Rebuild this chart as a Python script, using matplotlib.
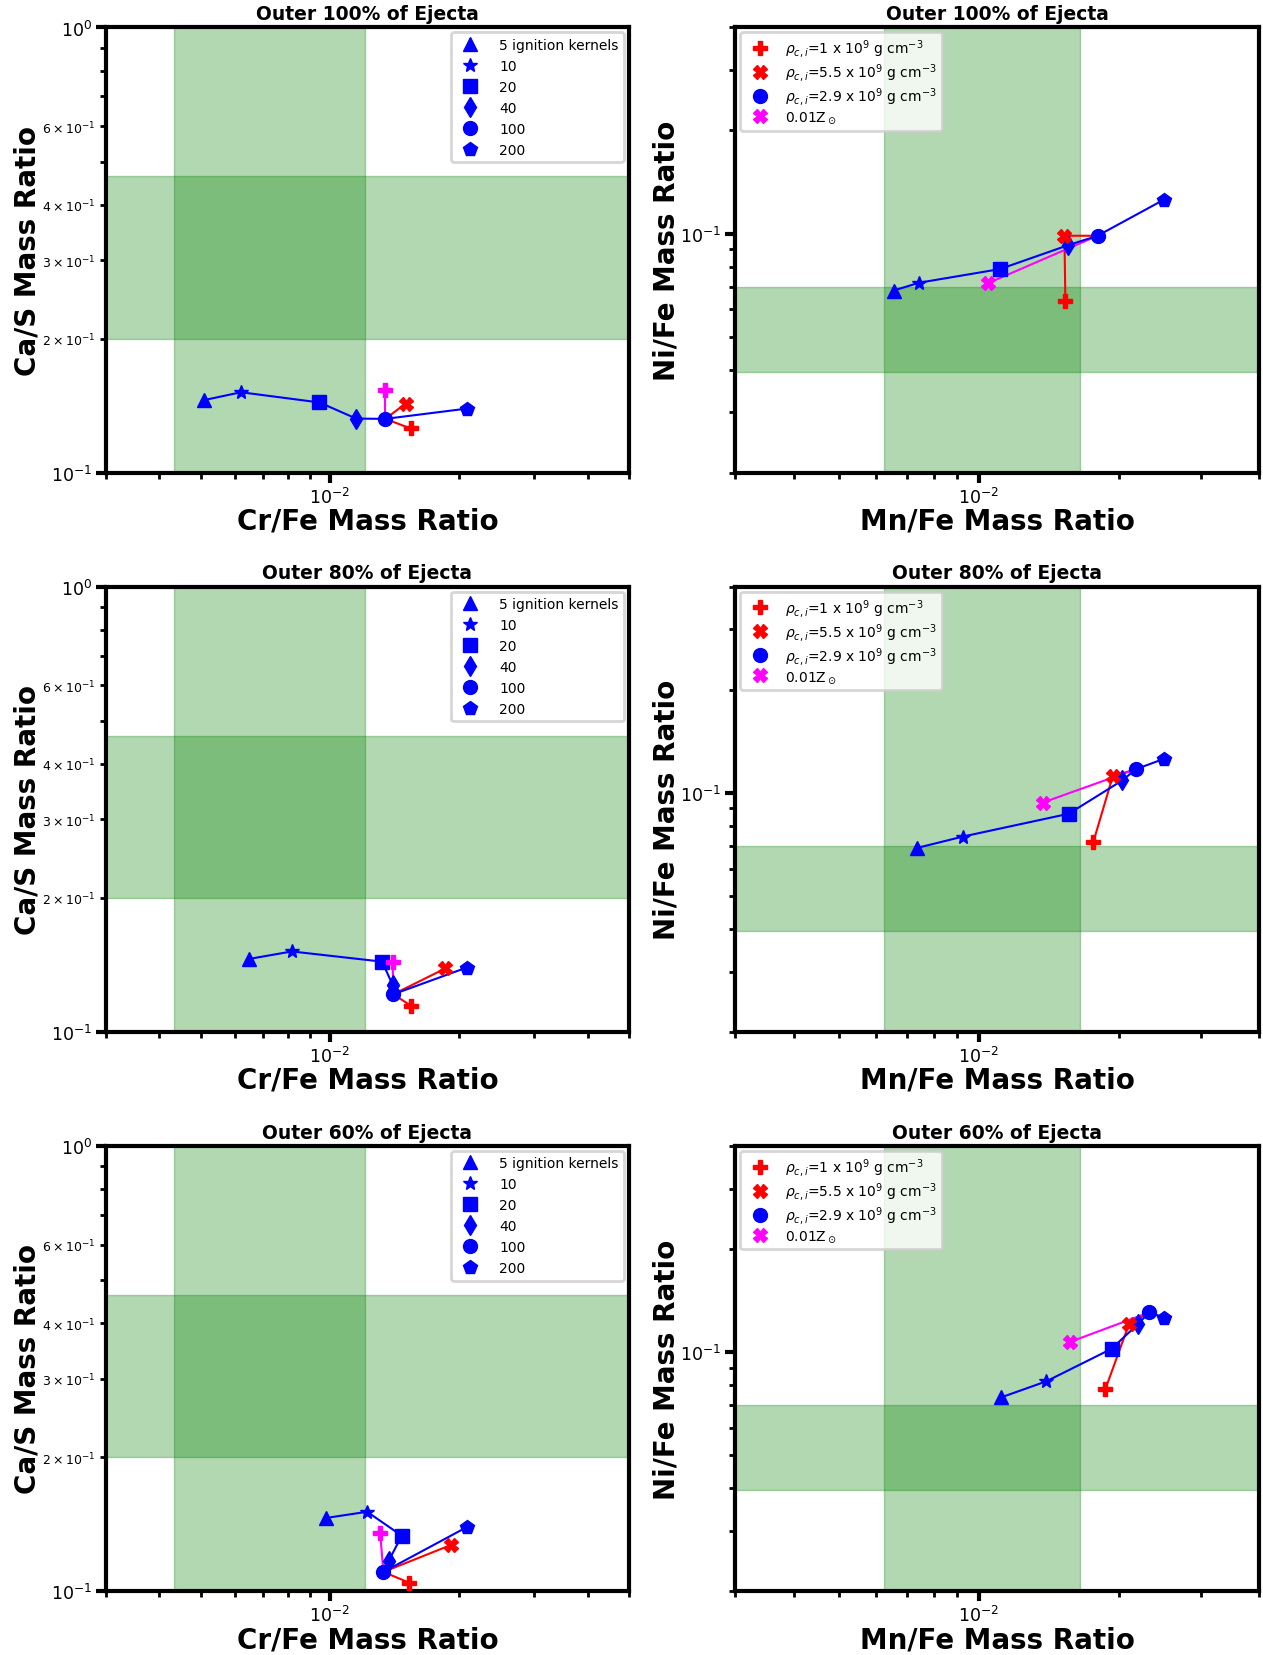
import numpy as np
import matplotlib.pyplot as plt
from matplotlib.lines import Line2D

panel_titles = ['Outer 100% of Ejecta', 'Outer 80% of Ejecta', 'Outer 60% of Ejecta']
kernel_labels = ['5 ignition kernels', '10', '20', '40', '100', '200']
kernel_markers = ['^', '*', 's', 'd', 'o', 'p']

# Cr/Fe vs Ca/S for the ignition-kernel sequence (rho_c = 2.9e9), one row per ejecta fraction
cr_fe = [
    [5.10e-3, 6.21e-3, 9.47e-3, 1.153e-2, 1.349e-2, 2.09e-2],
    [6.48e-3, 8.16e-3, 1.326e-2, 1.403e-2, 1.409e-2, 2.09e-2],
    [9.83e-3, 1.223e-2, 1.473e-2, 1.373e-2, 1.335e-2, 2.09e-2],
]
ca_s = [
    [0.1456, 0.1516, 0.1438, 0.1323, 0.1321, 0.1393],
    [0.1458, 0.1516, 0.1438, 0.1275, 0.1215, 0.1395],
    [0.1460, 0.1507, 0.1332, 0.1168, 0.1104, 0.1392],
]
cr_fe_rho1 = [1.545e-2, 1.545e-2, 1.531e-2]
ca_s_rho1 = [0.1257, 0.1146, 0.1045]
cr_fe_rho55 = [1.505e-2, 1.861e-2, 1.922e-2]
ca_s_rho55 = [0.1430, 0.1388, 0.1270]
cr_fe_lowz = [1.349e-2, 1.403e-2, 1.312e-2]
ca_s_lowz = [0.1530, 0.1433, 0.1349]

# Mn/Fe vs Ni/Fe
mn_fe = [
    [6.56e-3, 7.44e-3, 1.11e-2, 1.558e-2, 1.80e-2, 2.50e-2],
    [7.35e-3, 9.23e-3, 1.561e-2, 2.036e-2, 2.175e-2, 2.50e-2],
    [1.116e-2, 1.396e-2, 1.929e-2, 2.202e-2, 2.323e-2, 2.506e-2],
]
ni_fe = [
    [0.0681, 0.0718, 0.0787, 0.0925, 0.0985, 0.1256],
    [0.0689, 0.0744, 0.0868, 0.1087, 0.1171, 0.1256],
    [0.0736, 0.0820, 0.1021, 0.1209, 0.1304, 0.1260],
]
mn_fe_rho1 = [1.535e-2, 1.763e-2, 1.872e-2]
ni_fe_rho1 = [0.0633, 0.0718, 0.0780]
mn_fe_rho55 = [1.528e-2, 1.941e-2, 2.102e-2]
ni_fe_rho55 = [0.0985, 0.1118, 0.1204]
mn_fe_lowz = [1.045e-2, 1.374e-2, 1.570e-2]
ni_fe_lowz = [0.0715, 0.0936, 0.1069]

# observed ranges (shaded)
cr_fe_obs = (4.33e-3, 1.21e-2)
ca_s_obs = (0.2, 0.463)
mn_fe_obs = (6.27e-3, 1.647e-2)
ni_fe_obs = (0.0395, 0.07)

density_labels = [r'$\rho_{c,i}$=1 x 10$^9$ g cm$^{-3}$',
                  r'$\rho_{c,i}$=5.5 x 10$^9$ g cm$^{-3}$',
                  r'$\rho_{c,i}$=2.9 x 10$^9$ g cm$^{-3}$',
                  r'0.01Z$_\odot$']

MS = 10


def estilo(ax):
    for s in ax.spines.values():
        s.set_linewidth(3)
    ax.tick_params(which='major', length=7, width=3, labelsize=12.5, pad=3)
    ax.tick_params(which='minor', length=4.5, width=2, labelsize=9, pad=3)


def graficar(ax, x, y, xr1, yr1, xr55, yr55, xz, yz, zmark, red_line):
    circ = (x[4], y[4])
    # red density line
    if red_line == 'left':
        ax.plot([xr55, circ[0], xr1], [yr55, circ[1], yr1], color='red', lw=1.5, zorder=3)
    else:
        ax.plot([xr1, xr55, circ[0]], [yr1, yr55, circ[1]], color='red', lw=1.5, zorder=3)
    ax.plot([xz, circ[0]], [yz, circ[1]], color='magenta', lw=1.5, zorder=3)
    ax.plot(x, y, color='blue', lw=1.5, zorder=4)
    for xi, yi, m in zip(x, y, kernel_markers):
        ax.plot(xi, yi, marker=m, color='blue', markersize=MS, linestyle='None', zorder=5)
    ax.plot(xr1, yr1, marker='P', color='red', markersize=MS, linestyle='None', zorder=6)
    ax.plot(xr55, yr55, marker='X', color='red', markersize=MS, linestyle='None', zorder=6)
    ax.plot(xz, yz, marker=zmark, color='magenta', markersize=MS, linestyle='None', zorder=6)


fig, axes = plt.subplots(3, 2, figsize=(12.63, 16.56), dpi=100)
fig.subplots_adjust(left=0.0836, right=0.9968, bottom=0.0386, top=0.9828,
                    wspace=0.203, hspace=0.256)

kernel_handles = [Line2D([], [], color='blue', marker=m, linestyle='None',
                         markersize=MS, label=l)
                  for m, l in zip(kernel_markers, kernel_labels)]
density_handles = [
    Line2D([], [], color='red', marker='P', linestyle='None', markersize=MS, label=density_labels[0]),
    Line2D([], [], color='red', marker='X', linestyle='None', markersize=MS, label=density_labels[1]),
    Line2D([], [], color='blue', marker='o', linestyle='None', markersize=MS, label=density_labels[2]),
    Line2D([], [], color='magenta', marker='X', linestyle='None', markersize=MS, label=density_labels[3]),
]

for i in range(3):
    ax = axes[i, 0]
    ax.set_xscale('log')
    ax.set_yscale('log')
    ax.axvspan(cr_fe_obs[0], cr_fe_obs[1], color='green', alpha=0.3, zorder=1)
    ax.axhspan(ca_s_obs[0], ca_s_obs[1], color='green', alpha=0.3, zorder=1)
    graficar(ax, cr_fe[i], ca_s[i], cr_fe_rho1[i], ca_s_rho1[i],
             cr_fe_rho55[i], ca_s_rho55[i], cr_fe_lowz[i], ca_s_lowz[i], 'P', 'left')
    ax.set_xlim(3e-3, 5e-2)
    ax.set_ylim(0.1, 1.0)
    ax.set_title(panel_titles[i], fontsize=13.5, fontweight='bold')
    ax.set_xlabel('Cr/Fe Mass Ratio', fontsize=20, fontweight='bold', labelpad=0)
    ax.set_ylabel('Ca/S Mass Ratio', fontsize=20, fontweight='bold', labelpad=0)
    estilo(ax)
    leg = ax.legend(handles=kernel_handles, loc='upper right', fontsize=10,
                    borderaxespad=0.35, handletextpad=1.1)
    leg.get_frame().set_linewidth(2)
    leg.set_zorder(10)

    ax = axes[i, 1]
    ax.set_xscale('log')
    ax.set_yscale('log')
    ax.axvspan(mn_fe_obs[0], mn_fe_obs[1], color='green', alpha=0.3, zorder=1)
    ax.axhspan(ni_fe_obs[0], ni_fe_obs[1], color='green', alpha=0.3, zorder=1)
    graficar(ax, mn_fe[i], ni_fe[i], mn_fe_rho1[i], ni_fe_rho1[i],
             mn_fe_rho55[i], ni_fe_rho55[i], mn_fe_lowz[i], ni_fe_lowz[i], 'X', 'right')
    ax.set_xlim(3e-3, 4e-2)
    ax.set_ylim(0.02, 0.4)
    ax.set_title(panel_titles[i], fontsize=13.5, fontweight='bold')
    ax.set_xlabel('Mn/Fe Mass Ratio', fontsize=20, fontweight='bold', labelpad=0)
    ax.set_ylabel('Ni/Fe Mass Ratio', fontsize=20, fontweight='bold', labelpad=0)
    estilo(ax)
    leg = ax.legend(handles=density_handles, loc='upper left', fontsize=10,
                    labelspacing=0.17, borderaxespad=0.35)
    leg.get_frame().set_linewidth(2)
    leg.set_zorder(10)

fig.savefig('out.png', dpi=100)
